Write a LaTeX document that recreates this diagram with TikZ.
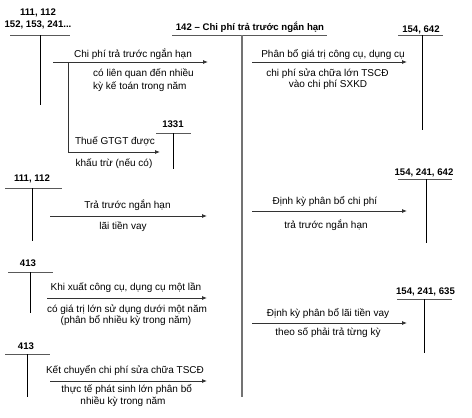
\documentclass[tikz,border=0pt]{standalone}
\usepackage{fontspec}
\setmainfont{Liberation Sans}
\usetikzlibrary{arrows.meta}
\begin{document}
\begin{tikzpicture}[x=1pt,y=-1pt,
  lbl/.style={anchor=base,inner sep=0pt,font=\fontsize{10}{12}\selectfont},
  acc/.style={anchor=base,inner sep=0pt,font=\fontsize{9.6}{11}\selectfont\bfseries},
  tbar/.style={draw=black!65,line width=0.9pt},
  tstem/.style={draw=black,line width=0.8pt},
  mainstem/.style={draw=black!55,line width=1.4pt},
  flow/.style={draw=black!80,line width=0.8pt,-{Latex[length=5pt,width=4pt]}},
  branch/.style={draw=black!80,line width=0.8pt}]
\useasboundingbox (0,0) rectangle (472,418);
\fill[white] (0,0) rectangle (472,418);

% ---- main account 142
\node[acc] (t142) at (250,30) {142 – Chi phí trả trước ngắn hạn};
\coordinate (m142L) at (172,35);
\coordinate (m142R) at (327,35);
\coordinate (m142T) at (242,35);
\coordinate (m142B) at (242,397);
\draw[tbar] (m142L) -- (m142R);
\draw[mainstem] (m142T) -- (m142B);

% ---- account 111,112 / 152,153,241...
\node[acc] (a1a) at (38,15) {111, 112};
\node[acc] (a1b) at (38,27.3) {152, 153, 241...};
\coordinate (a1L) at (10,35);
\coordinate (a1R) at (70,35);
\coordinate (a1T) at (40,35);
\coordinate (a1B) at (40,105);
\draw[tbar] (a1L) -- (a1R);
\draw[tstem] (a1T) -- (a1B);

% ---- 1331
\node[acc] (a1331) at (173,127.3) {1331};
\coordinate (b1L) at (156,133);
\coordinate (b1R) at (191,133);
\coordinate (b1T) at (173,133);
\coordinate (b1B) at (173,169);
\draw[tbar] (b1L) -- (b1R);
\draw[tstem] (b1T) -- (b1B);

% ---- 154, 642
\node[acc] (a154a) at (421,32.7) {154, 642};
\coordinate (c1L) at (398,35);
\coordinate (c1R) at (443,35);
\coordinate (c1T) at (422,35);
\coordinate (c1B) at (422,130);
\draw[tbar] (c1L) -- (c1R);
\draw[tstem] (c1T) -- (c1B);

% ---- 111, 112 (second)
\node[acc] (a2) at (32,181.7) {111, 112};
\coordinate (a2L) at (5,188);
\coordinate (a2R) at (62,188);
\coordinate (a2T) at (32,188);
\coordinate (a2B) at (32,241);
\draw[tbar] (a2L) -- (a2R);
\draw[tstem] (a2T) -- (a2B);

% ---- 154, 241, 642
\node[acc] (a154b) at (424,175) {154, 241, 642};
\coordinate (c2L) at (398,179);
\coordinate (c2R) at (452,179);
\coordinate (c2T) at (426,179);
\coordinate (c2B) at (426,243);
\draw[tbar] (c2L) -- (c2R);
\draw[tstem] (c2T) -- (c2B);

% ---- 413 (first)
\node[acc] (a3) at (28,266) {413};
\coordinate (a3L) at (8,272);
\coordinate (a3R) at (53,272);
\coordinate (a3T) at (30,272);
\coordinate (a3B) at (30,313);
\draw[tbar] (a3L) -- (a3R);
\draw[tstem] (a3T) -- (a3B);

% ---- 154, 241, 635
\node[acc] (a154c) at (425.5,294.7) {154, 241, 635};
\coordinate (c3L) at (397,299);
\coordinate (c3R) at (452,299);
\coordinate (c3T) at (424,299);
\coordinate (c3B) at (424,353);
\draw[tbar] (c3L) -- (c3R);
\draw[tstem] (c3T) -- (c3B);

% ---- 413 (second)
\node[acc] (a4) at (26,349) {413};
\coordinate (a4L) at (5,354);
\coordinate (a4R) at (50,354);
\coordinate (a4T) at (27,354);
\coordinate (a4B) at (27,397);
\draw[tbar] (a4L) -- (a4R);
\draw[tstem] (a4T) -- (a4B);

% ---- flow 1: prepaid expenses
\coordinate (f1s) at (53,62);
\coordinate (f1e) at (208,62);
\draw[flow] (f1s) -- (f1e);
\node[lbl] (l1a) at (133,57) {Chi phí trả trước ngắn hạn};
\node[lbl,anchor=base west] (l1b) at (93,76) {có liên quan đến nhiều};
\node[lbl,anchor=base west] (l1c) at (93,89) {kỳ kế toán trong năm};

% ---- branch: VAT
\coordinate (f2j) at (68,62);
\coordinate (f2k) at (68,152);
\coordinate (f2e) at (160,152);
\draw[branch] (f2j) -- (f2k);
\draw[flow] (f2k) -- (f2e);
\node[lbl] (l2a) at (115,144.3) {Thuế GTGT được};
\node[lbl] (l2b) at (114,166.7) {khấu trừ (nếu có)};

% ---- flow 3: interest prepaid
\coordinate (f3s) at (50,216);
\coordinate (f3e) at (207,216);
\draw[flow] (f3s) -- (f3e);
\node[lbl] (l3a) at (127.5,208) {Trả trước ngắn hạn};
\node[lbl] (l3b) at (123,229) {lãi tiền vay};

% ---- flow 4: tools
\coordinate (f4s) at (47,298);
\coordinate (f4e) at (207,298);
\draw[flow] (f4s) -- (f4e);
\node[lbl] (l4a) at (126,290.7) {Khi xuất công cụ, dụng cụ một lần};
\node[lbl] (l4b) at (127,312.7) {có giá trị lớn sử dụng dưới một năm};
\node[lbl] (l4c) at (126,323.5) {(phân bổ nhiều kỳ trong năm)};

% ---- flow 5: repair
\coordinate (f5s) at (50,381);
\coordinate (f5e) at (207,381);
\draw[flow] (f5s) -- (f5e);
\node[lbl] (l5a) at (125,373.3) {Kết chuyển chi phí sửa chữa TSCĐ};
\node[lbl] (l5b) at (126.7,392.3) {thực tế phát sinh lớn phân bổ};
\node[lbl] (l5c) at (123,404) {nhiều kỳ trong năm};

% ---- right flows
\coordinate (g1s) at (252,62);
\coordinate (g1e) at (407,62);
\draw[flow] (g1s) -- (g1e);
\node[lbl] (r1a) at (333,57) {Phân bổ giá trị công cụ, dụng cụ};
\node[lbl] (r1b) at (327.5,76) {chi phí sửa chữa lớn TSCĐ};
\node[lbl] (r1c) at (328,87.5) {vào chi phí SXKD};

\coordinate (g2s) at (252,211);
\coordinate (g2e) at (407,211);
\draw[flow] (g2s) -- (g2e);
\node[lbl] (r2a) at (325,204.7) {Định kỳ phân bổ chi phí};
\node[lbl] (r2b) at (326,228.7) {trả trước ngắn hạn};

\coordinate (g3s) at (252,323);
\coordinate (g3e) at (407,323);
\draw[flow] (g3s) -- (g3e);
\node[lbl] (r3a) at (328,316.7) {Định kỳ phân bổ lãi tiền vay};
\node[lbl] (r3b) at (328,335) {theo số phải trả từng kỳ};
\end{tikzpicture}
\end{document}
